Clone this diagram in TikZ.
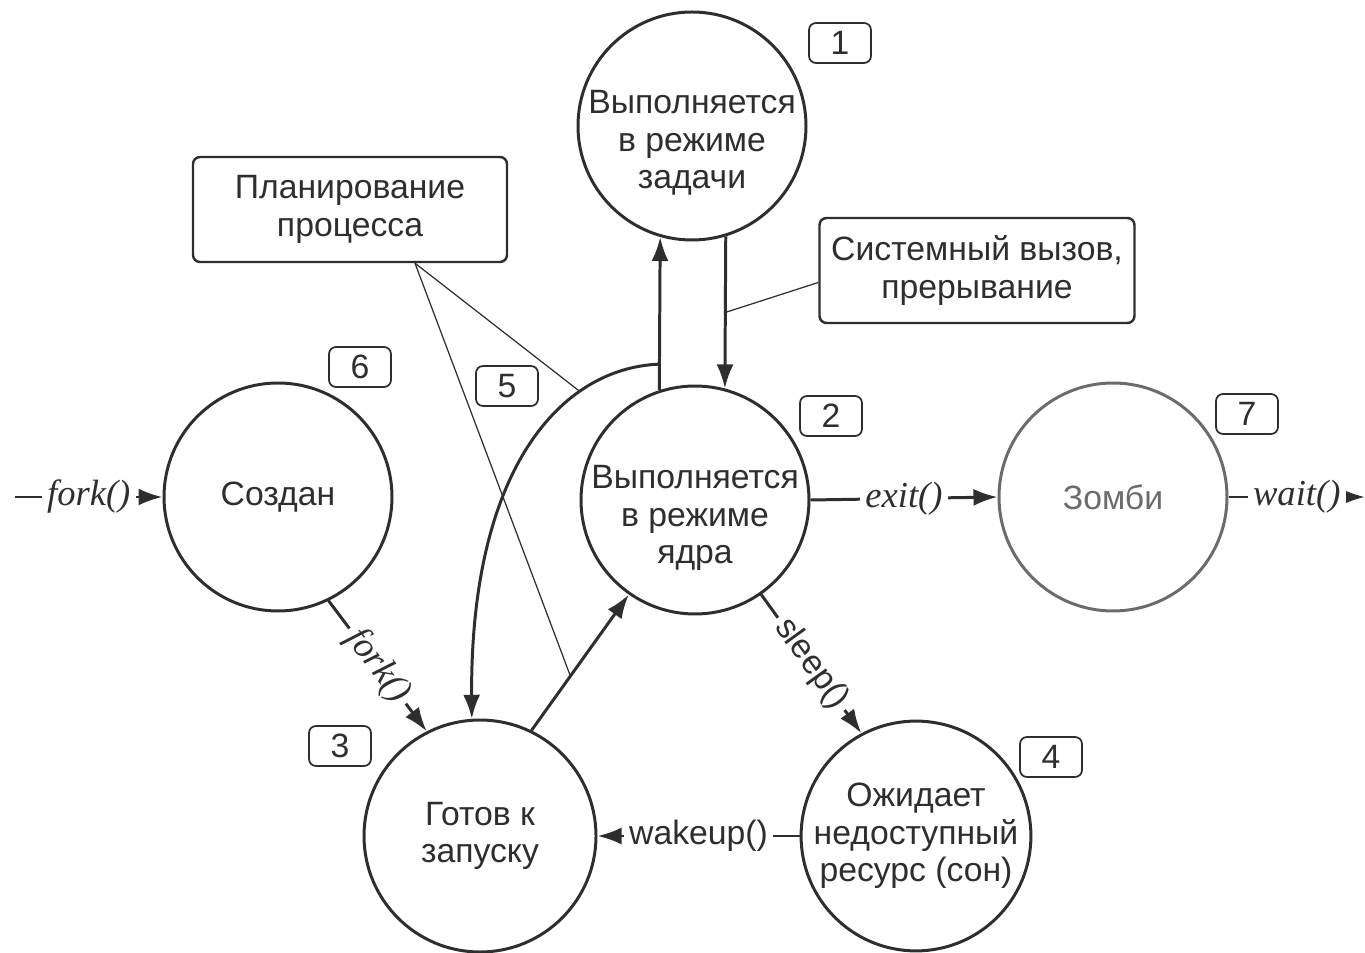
\documentclass[tikz,border=0pt]{standalone}
\usepackage{fontspec}
\setmainfont{Liberation Sans}
\newfontfamily\serifit{Liberation Serif}
\usetikzlibrary{arrows.meta,calc}
\definecolor{ink}{gray}{0.18}
\definecolor{pale}{gray}{0.42}
\newcommand\mysz{\fontsize{9.6}{10.7}\selectfont}
\newcommand\labit{\fontsize{10.4}{12}\selectfont\serifit\itshape}
\begin{document}
\begin{tikzpicture}[
  st/.style={circle, draw=ink, line width=0.85pt, minimum size=2.28cm, inner sep=0pt, align=center, text=ink, font=\mysz},
  txt/.style={align=center, text=ink, font=\mysz, inner sep=0pt},
  num/.style={draw=ink, line width=0.5pt, rounded corners=2pt, minimum width=0.62cm, minimum height=0.40cm, inner sep=0pt, text=ink, font=\mysz},
  callbox/.style={draw=ink, line width=0.7pt, rounded corners=2pt, minimum width=3.14cm, minimum height=1.05cm, align=center, text=ink, font=\mysz},
  arr/.style={draw=ink, line width=0.85pt, -{Latex[length=0.24cm,width=0.17cm]}},
  thin/.style={draw=ink, line width=0.35pt},
  lab/.style={fill=white, inner sep=1.5pt, text=ink, font=\labit},
  slab/.style={fill=white, inner sep=1.5pt, text=ink, font=\mysz}
]
\useasboundingbox (0,0) rectangle (13.65,-9.53);

% states
\node[st] (user) at (6.92,-1.26) {};
\node[txt] (usert) at (6.92,-1.43) {Выполняется\\в режиме\\задачи};
\node[st] (kernel) at (6.95,-5.00) {};
\node[txt] (kernelt) at (6.95,-5.18) {Выполняется\\в режиме\\ядра};
\node[st, draw=pale, text=pale] (zombie) at (11.13,-4.97) {Зомби};
\node[st] (created) at (2.78,-4.97) {Создан};
\node[st, minimum size=2.32cm] (ready) at (4.80,-8.36) {Готов к\\запуску};
\node[st] (sleepn) at (9.16,-8.36) {Ожидает\\недоступный\\ресурс (сон)};

% numbers
\node[num] (n1) at (8.40,-0.43) {1};
\node[num] (n2) at (8.31,-4.16) {2};
\node[num] (n3) at (3.40,-7.46) {3};
\node[num] (n4) at (10.51,-7.57) {4};
\node[num] (n5) at (5.07,-3.86) {5};
\node[num] (n6) at (3.60,-3.67) {6};
\node[num] (n7) at (12.47,-4.14) {7};

% callout boxes
\node[callbox] (plan) at (3.50,-2.095) {Планирование\\процесса};
\node[callbox] (sys) at (9.77,-2.705) {Системный вызов,\\прерывание};

% user <-> kernel
\draw[arr] (kernel.108) -- (user.254);
\draw[arr] (user.287) -- (kernel.75);
\coordinate (cs) at ($(kernel.108)!0.17!(user.254)$);
\coordinate (sc) at ($(user.287)!0.5!(kernel.75)$);

% scheduling arrows
\draw[arr] (cs) .. controls (5.60,-3.68) and (4.70,-4.70) .. (ready.94) coordinate[pos=0.28] (c5);
\draw[arr] (ready.64) -- (kernel.235) coordinate[pos=0.4] (c6);

% callout lines
\coordinate (pb) at ($(plan.south)+(0.65,0)$);
\draw[thin] (pb) -- (c5);
\draw[thin] (pb) -- (c6);
\coordinate (sb) at ($(sys.west)+(0,-0.12)$);
\draw[thin] (sb) -- (sc);

% transitions with labels
\coordinate (fin) at (0.15,-4.97);
\coordinate (fout) at (13.65,-4.97);
\draw[arr] (fin) -- (created.west) node[lab, midway] {fork()};
\draw[arr] (kernel.east) -- (zombie.west) node[lab, midway] {exit()};
\draw[arr] (zombie.east) -- (fout) node[lab, midway] {wait()};
\draw[arr] (created.296) -- (ready.117) node[lab, midway, sloped] {fork()};
\draw[arr] (kernel.305) -- (sleepn.118) node[slab, midway, sloped] {sleep()};
\draw[arr] (sleepn.west) -- (ready.east) node[slab, midway] {wakeup()};
\end{tikzpicture}
\end{document}
